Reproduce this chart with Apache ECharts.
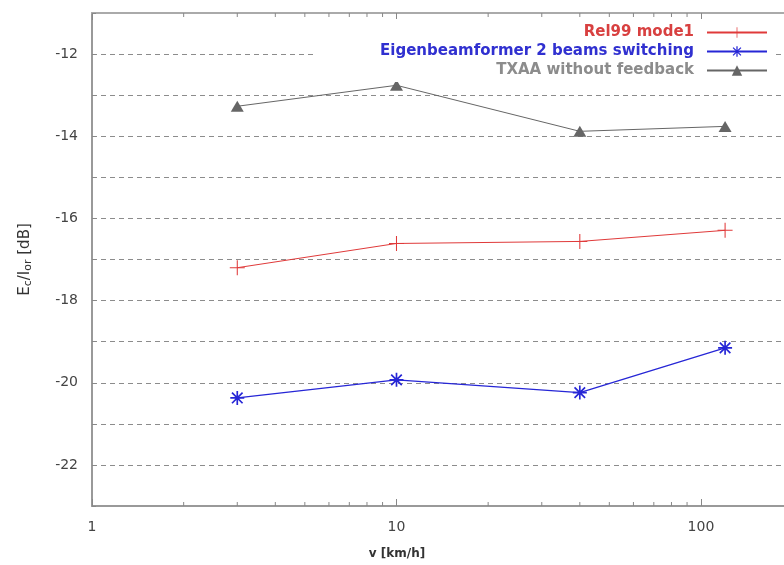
<!DOCTYPE html>
<html><head><meta charset="utf-8">
<script src="https://cdn.jsdelivr.net/npm/echarts@6/dist/echarts.min.js"></script>
<style>html,body{margin:0;padding:0;background:#fff}#c{width:784px;height:565px}</style>
</head><body><div id="c"></div>
<script>
const speeds = [3, 10, 40, 120];
const rel99 = [-17.2, -16.61, -16.56, -16.29];
const eigen = [-20.37, -19.93, -20.24, -19.15];
const txaa = [-13.27, -12.76, -13.88, -13.76];
const seriesNames = ['Rel99 mode1', 'Eigenbeamformer 2 beams switching', 'TXAA without feedback'];
const xTickLabels = [1, 10, 100];
const xMin = 1, xMax = 190.2;
const yMin = -23, yMax = -11;
const minorTicks = [2,3,4,5,6,7,8,9,20,30,40,50,60,70,80,90];

const colRed = '#e03a3a', colBlue = '#2626d6', colGray = '#666666';
const plusPath = 'path://M0,9.3H20V10.7H0ZM9.3,0H10.7V20H9.3Z';
const starPath = 'path://M8.8,0H11.2V20H8.8ZM0,8.8H20V11.2H0ZM1.6,3.3L3.3,1.6L18.4,16.7L16.7,18.4ZM16.7,1.6L18.4,3.3L3.3,18.4L1.6,16.7Z';

const pairs = arr => speeds.map((s, i) => [s, arr[i]]);
const font = 'DejaVu Sans';

const chart = echarts.init(document.getElementById('c'));
chart.setOption({
  animation: false,
  backgroundColor: '#fff',
  grid: { left: 92, top: 13, width: 694, bottom: 59, outerBoundsMode: 'none' },
  legend: {
    orient: 'vertical', align: 'right', right: 8, top: 19,
    itemWidth: 60, itemHeight: 13, itemGap: 4,
    backgroundColor: '#fff', padding: [6, 8, 4, 66],
    formatter: n => '{t|' + n + '}',
    textStyle: {
      fontFamily: font, fontWeight: 'bold', fontSize: 15,
      rich: { t: { fontFamily: font, fontWeight: 'bold', fontSize: 15, padding: [0, 8, 0, 0] } }
    },
    data: [
      { name: seriesNames[0], textStyle: { color: '#d84040' } },
      { name: seriesNames[1], textStyle: { color: '#3030d0' } },
      { name: seriesNames[2], textStyle: { color: '#8c8c8c' } }
    ]
  },
  xAxis: [{
    type: 'log', logBase: 10, min: xMin, max: xMax,
    name: 'v [km/h]', nameLocation: 'middle', nameGap: 42,
    nameTextStyle: { fontFamily: font, fontWeight: 'bold', fontSize: 12, color: '#333', padding: [0, 84, 0, 0] },
    axisLine: { lineStyle: { color: '#999', width: 2 } },
    axisTick: { inside: true, length: 7, lineStyle: { color: '#888' } },
    axisLabel: {
      margin: 14, fontFamily: font, fontSize: 14, color: '#444',
      formatter: v => (xTickLabels.indexOf(Math.round(v)) >= 0 && Math.abs(v - Math.round(v)) < 1e-6 ? String(Math.round(v)) : '')
    },
    splitLine: { show: false }
  }, {
    type: 'log', logBase: 10, min: xMin, max: xMax, position: 'top',
    axisLine: { lineStyle: { color: '#aaa', width: 2 } },
    axisTick: { inside: true, length: 7, lineStyle: { color: '#888' } },
    axisLabel: { show: false }, splitLine: { show: false }
  }],
  yAxis: {
    type: 'value', min: yMin, max: yMax, interval: 1,
    name: '{a|E}{s|c}{a|/I}{s|or}{a| [dB]}', nameLocation: 'middle', nameGap: 58, nameRotate: 90,
    nameTextStyle: {
      rich: {
        a: { fontFamily: font, fontSize: 15, color: '#333' },
        s: { fontFamily: font, fontSize: 11, color: '#333', verticalAlign: 'bottom', padding: [6, 0, 0, 0] }
      }
    },
    axisLine: { show: true, lineStyle: { color: '#999', width: 2 } },
    axisTick: { inside: true, length: 4, lineStyle: { color: '#888' } },
    axisLabel: {
      margin: 14, fontFamily: font, fontSize: 14, color: '#444',
      formatter: v => (Math.round(v) % 2 === 0 ? String(v) : '')
    },
    splitLine: { show: true, lineStyle: { color: '#8c8c8c', type: [5, 4], width: 1 } }
  },
  series: [
    {
      name: seriesNames[0], type: 'line', data: pairs(rel99),
      symbol: plusPath, symbolSize: 15,
      lineStyle: { color: colRed, width: 1 }, itemStyle: { color: colRed }
    },
    {
      name: seriesNames[1], type: 'line', data: pairs(eigen),
      symbol: starPath, symbolSize: 14,
      lineStyle: { color: colBlue, width: 1.3 }, itemStyle: { color: colBlue }
    },
    {
      name: seriesNames[2], type: 'line', data: pairs(txaa),
      symbol: 'triangle', symbolSize: [13, 11],
      lineStyle: { color: colGray, width: 1 }, itemStyle: { color: colGray }
    },
    {
      type: 'custom', silent: true, legendHoverLink: false,
      data: minorTicks.map(v => [v]),
      renderItem: (params, api) => {
        const v = api.value(0);
        const b = api.coord([v, yMin]);
        const t = api.coord([v, yMax]);
        return {
          type: 'group', children: [
            { type: 'line', shape: { x1: b[0], y1: b[1], x2: b[0], y2: b[1] - 4 }, style: { stroke: '#888', lineWidth: 1 } },
            { type: 'line', shape: { x1: t[0], y1: t[1], x2: t[0], y2: t[1] + 4 }, style: { stroke: '#888', lineWidth: 1 } }
          ]
        };
      }
    }
  ]
});
</script></body></html>
